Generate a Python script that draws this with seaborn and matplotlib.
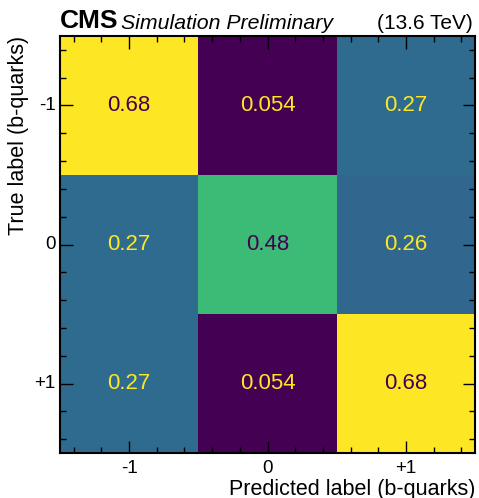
import numpy as np
import pandas as pd
import seaborn as sns
import matplotlib.pyplot as plt
from matplotlib.ticker import FixedLocator

labels = ["-1", "0", "+1"]
row_m1 = [0.68, 0.054, 0.27]
row_0 = [0.27, 0.48, 0.26]
row_p1 = [0.27, 0.054, 0.68]

df = pd.DataFrame([row_m1, row_0, row_p1], index=labels, columns=labels)

plt.rcParams["font.family"] = ["Liberation Sans", "DejaVu Sans"]

fig = plt.figure(figsize=(4.79, 4.98), dpi=100)
ax = fig.add_axes([0.125, 0.090, 0.867, 0.838])

cmap = plt.get_cmap("viridis")
vmin, vmax = df.values.min(), df.values.max()
sns.heatmap(df, ax=ax, cmap=cmap, vmin=vmin, vmax=vmax, cbar=False,
            annot=True, fmt=".2g", annot_kws={"fontsize": 16})

# sklearn-style text colour: dark on bright cells, yellow on dark ones
thresh = (vmin + vmax) / 2
for t in ax.texts:
    v = float(t.get_text())
    t.set_color(cmap(0.0) if v > thresh else cmap(1.0))

ax.set_axisbelow(False)
ax.set_xticks([0.5, 1.5, 2.5])
ax.set_yticks([0.5, 1.5, 2.5])
ax.set_xticklabels(labels, rotation=0, fontsize=13.5)
ax.set_yticklabels(labels, rotation=0, fontsize=13.5)
ax.xaxis.set_minor_locator(FixedLocator(np.arange(0.1, 3.0, 0.2)))
ax.yaxis.set_minor_locator(FixedLocator(np.arange(0.1, 3.0, 0.2)))
ax.tick_params(which="both", direction="in", top=True, right=True,
               bottom=True, left=True, color="black", width=1)
ax.tick_params(which="major", length=9)
ax.tick_params(which="minor", length=4.5)
ax.tick_params(axis="x", which="major", pad=5)
ax.tick_params(axis="y", which="major", pad=3)
for s in ax.spines.values():
    s.set_visible(True)
    s.set_linewidth(1.5)
    s.set_color("black")

ax.set_xlabel("Predicted label (b-quarks)", fontsize=15.5, ha="right", x=1.0,
              labelpad=1)
ax.set_ylabel("True label (b-quarks)", fontsize=15.5, ha="right", y=1.0,
              labelpad=4)

ax.text(0.0, 1.008, "CMS", transform=ax.transAxes, fontsize=19,
        fontweight="bold", ha="left", va="bottom")
ax.text(0.148, 1.008, "Simulation Preliminary", transform=ax.transAxes,
        fontsize=15.3, style="italic", ha="left", va="bottom")
ax.text(0.995, 1.008, "(13.6 TeV)", transform=ax.transAxes, fontsize=15,
        ha="right", va="bottom")

fig.savefig("out.png", dpi=100)
